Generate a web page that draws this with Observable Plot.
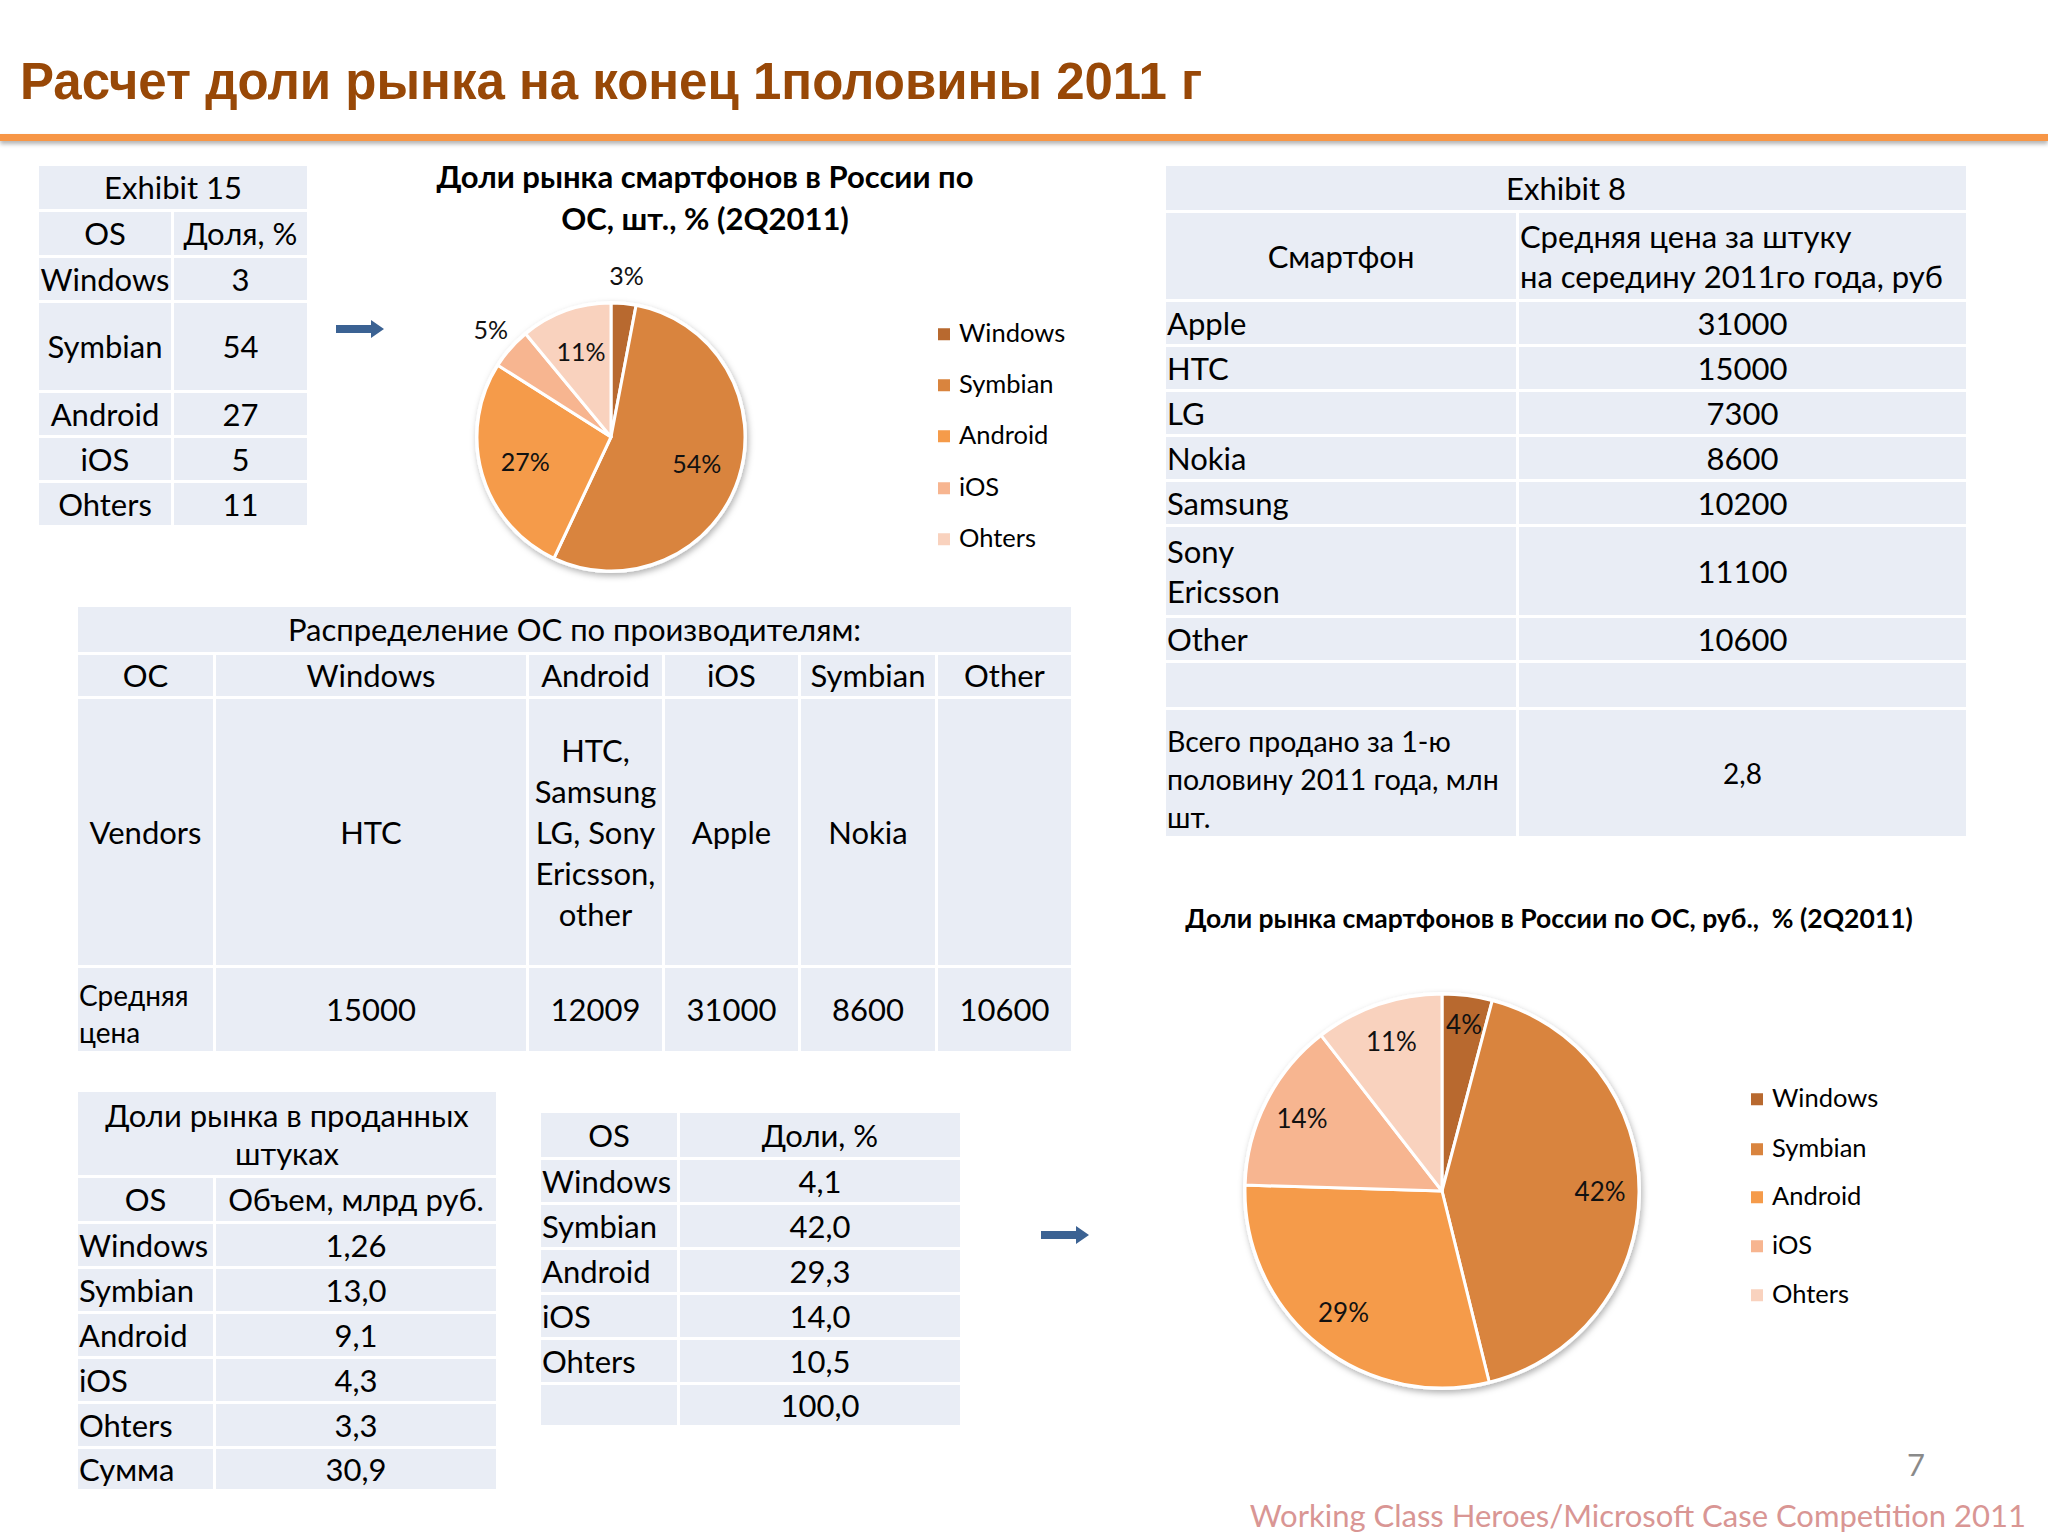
<!DOCTYPE html>
<html><head><meta charset="utf-8">
<script src="https://cdn.jsdelivr.net/npm/d3@7"></script>
<script src="https://cdn.jsdelivr.net/npm/@observablehq/plot@0.6"></script>
<style>
html,body{margin:0;padding:0;background:#fff;}
#slide{position:relative;width:2048px;height:1536px;overflow:hidden;background:#fff;font-family:Lato,"Noto Sans",sans-serif;color:#000;}
.abs{position:absolute;}
table.t{position:absolute;border-collapse:collapse;table-layout:fixed;font-size:31px;}
table.t td{background:#e9edf5;border:3px solid #fff;padding:0 1px;text-align:center;vertical-align:middle;white-space:pre-line;line-height:1.3;overflow:visible;}
table.t td.l{text-align:left;}
.leg{position:absolute;font-size:25px;line-height:1;transform:translateY(-50%);white-space:nowrap;}
.leg span.sw{display:inline-block;width:12px;height:12px;margin-right:9px;vertical-align:middle;position:relative;top:-2px;}
</style></head>
<body><div id="slide"></div>
<script>
// ---------- data ----------
const osNames = ["Windows", "Symbian", "Android", "iOS", "Ohters"];
const osColors = ["#b8692f", "#d9843e", "#f59b4a", "#f7b590", "#f9d2be"];
const unitShare = [3, 54, 27, 5, 11];                 // Exhibit 15, %
const revenueVolume = [1.26, 13.0, 9.1, 4.3, 3.3];    // млрд руб.
const revenueTotal = 30.9;
const revenueShare = [4.1, 42.0, 29.3, 14.0, 10.5];   // %
const revenueShareTotal = 100.0;

const distOS = ["Windows", "Android", "iOS", "Symbian", "Other"];
const distVendors = ["HTC", "HTC,\nSamsung\nLG, Sony\nEricsson,\nother", "Apple", "Nokia", ""];
const distPrice = [15000, 12009, 31000, 8600, 10600];

const phones = ["Apple", "HTC", "LG", "Nokia", "Samsung", "Sony\nEricsson", "Other"];
const phonePrice = [31000, 15000, 7300, 8600, 10200, 11100, 10600];
const totalSold = 2.8; // млн шт.

const titleText = "Расчет доли рынка на конец 1половины 2011 г";
const pie1Title = "Доли рынка смартфонов в России по\nОС, шт., % (2Q2011)";
const pie2Title = "Доли рынка смартфонов в России по ОС, руб.,  % (2Q2011)";
const footerText = "Working Class Heroes/Microsoft Case Competition 2011";
const pageNo = "7";

// ---------- helpers ----------
const slide = document.getElementById("slide");
const color = Plot.scale({color: {type: "ordinal", domain: osNames, range: osColors}});
const dec = v => (Number.isInteger(Math.round(v * 100) / 10) ? v.toFixed(1) : v.toFixed(2)).replace(".", ",");

function el(tag, css, html) {
  const e = document.createElement(tag);
  if (css) e.style.cssText = css;
  if (html != null) e.textContent = html;
  slide.appendChild(e);
  return e;
}

function table(left, top, colWidths, rows) {
  const t = document.createElement("table");
  t.className = "t";
  const cw = colWidths.slice(); cw[0] += 3;
  const W = d3.sum(cw);
  t.style.left = (left - 3) + "px"; t.style.top = (top - 3) + "px"; t.style.width = W + "px";
  const cg = document.createElement("colgroup");
  cw.forEach(w => { const c = document.createElement("col"); c.style.width = w + "px"; cg.appendChild(c); });
  t.appendChild(cg);
  rows.forEach((r, ri) => {
    const tr = document.createElement("tr");
    tr.style.height = (r.h + (ri === 0 ? 3 : 0)) + "px";
    r.cells.forEach(c => {
      const td = document.createElement("td");
      if (typeof c === "object" && c !== null) {
        td.textContent = c.t;
        if (c.span) td.colSpan = c.span;
        if (c.cls) td.className = c.cls;
        if (c.fs) td.style.fontSize = c.fs + "px";
        if (c.lh) td.style.lineHeight = c.lh;
        if (c.pt) td.style.paddingTop = c.pt + "px";
      } else td.textContent = c;
      tr.appendChild(td);
    });
    t.appendChild(tr);
  });
  slide.appendChild(t);
  return t;
}

function arrow(x, y) {
  const s = d3.create("svg").attr("width", 50).attr("height", 20)
    .style("position", "absolute").style("left", x + "px").style("top", (y - 10) + "px");
  s.append("path").attr("d", "M0,6 H35 V1 L48,10 L35,19 V14 H0 Z").attr("fill", "#3b6293");
  slide.appendChild(s.node());
}

function pie(values, size, radius, labelR, fs, left, top) {
  const D = size / 2 / radius;
  const data = osNames.map((os, i) => ({os, value: values[i]}));
  const arcs = d3.pie().sort(null).value(d => d.value)(data);
  const labels = arcs.map(a => {
    const m = (a.startAngle + a.endAngle) / 2, k = labelR(a.data.value);
    return {lx: Math.sin(m) * k, ly: Math.cos(m) * k, label: Math.round(a.data.value) + "%"};
  });
  const slices = (index, scales, vals, dims, context) => {
    const cx = scales.x(0), cy = scales.y(0), r = scales.x(1) - scales.x(0);
    const g = d3.create("svg:g").attr("transform", `translate(${cx},${cy})`);
    const fid = "sh" + Math.round(r);
    g.append("defs").append("filter").attr("id", fid).attr("x", "-20%").attr("y", "-20%").attr("width", "140%").attr("height", "140%")
      .append("feDropShadow").attr("dx", 1.5).attr("dy", 3).attr("stdDeviation", 3).attr("flood-color", "#000").attr("flood-opacity", 0.3);
    g.append("circle").attr("r", r + 2).attr("fill", "#fff").attr("filter", `url(#${fid})`);
    const arc = d3.arc().innerRadius(0).outerRadius(r);
    g.selectAll("path").data(arcs).join("path").attr("d", arc)
      .attr("fill", d => color.apply(d.data.os)).attr("stroke", "#fff").attr("stroke-width", 3).attr("stroke-linejoin", "round");
    return g.node();
  };
  const chart = Plot.plot({
    width: size, height: size, margin: 0,
    x: {domain: [-D, D], axis: null},
    y: {domain: [-D, D], axis: null},
    style: {background: "transparent", fontFamily: "Lato, 'Noto Sans', sans-serif", overflow: "visible"},
    marks: [
      slices,
      Plot.text(labels, {x: "lx", y: "ly", text: "label", fontSize: fs, fill: "#111"})
    ]
  });
  chart.style.position = "absolute";
  chart.style.left = left + "px";
  chart.style.top = top + "px";
  slide.appendChild(chart);
}

function legend(x, ys, fs) {
  osNames.forEach((os, i) => {
    const d = el("div", `left:${x}px;top:${ys[i]}px;font-size:${fs}px`);
    d.className = "leg";
    const sw = document.createElement("span"); sw.className = "sw"; sw.style.background = color.apply(os);
    d.appendChild(sw);
    d.appendChild(document.createTextNode(os));
  });
}

// ---------- header ----------
el("div", "left:20px;top:56px;font-family:'Liberation Sans',Arial,sans-serif;font-weight:bold;font-size:51px;line-height:1;color:#984807;white-space:nowrap;", titleText).className = "abs";
el("div", "left:0;top:134px;width:2048px;height:7px;background:#f79646;box-shadow:0 3px 4px rgba(0,0,0,0.3);").className = "abs";

// ---------- Exhibit 15 ----------
table(39, 166, [132, 136], [
  {h: 43, cells: [{t: "Exhibit 15", span: 2}]},
  {h: 46, cells: ["OS", "Доля, %"]},
  ...osNames.map((os, i) => ({h: i === 1 ? 90 : 45, cells: [os, String(unitShare[i])]}))
]);
arrow(336, 329);

// ---------- Pie 1 ----------
el("div", "left:405px;top:155px;width:600px;text-align:center;font-weight:bold;font-size:31px;line-height:42px;white-space:pre-line;", pie1Title).className = "abs";
pie(unitShare, 340, 134, v => v < 6 ? 1.2 : 0.67, 25, 611 - 170, 437 - 170);
legend(938, [333, 384, 435, 487, 538], 25.5);

// ---------- Exhibit 8 ----------
table(1166, 166, [350, 450], [
  {h: 44, cells: [{t: "Exhibit 8", span: 2}]},
  {h: 89, cells: ["Смартфон", {t: "Средняя цена за штуку\nна середину 2011го года, руб", cls: "l", lh: "40px"}]},
  ...phones.map((p, i) => ({h: i === 5 ? 91 : 45, cells: [{t: p, cls: "l", lh: "40px"}, String(phonePrice[i])]})),
  {h: 47, cells: ["", ""]},
  {h: 129, cells: [{t: "Всего продано за 1-ю\nполовину 2011 года, млн\nшт.", cls: "l", fs: 28.5, lh: "38px", pt: 12}, {t: dec(totalSold), fs: 28}]}
]);

// ---------- Распределение ОС ----------
table(78, 607, [135, 313, 136, 136, 137, 136], [
  {h: 45, cells: [{t: "Распределение ОС по производителям:", span: 6}]},
  {h: 44, cells: ["ОС", ...distOS]},
  {h: 269, cells: ["Vendors", ...distVendors.map(v => ({t: v, lh: "41px"}))]},
  {h: 86, cells: [{t: "Средняя\nцена", cls: "l", fs: 28, lh: "37px", pt: 8}, ...distPrice.map(String)]}
]);

// ---------- Доли рынка в проданных штуках ----------
table(78, 1092, [135, 283], [
  {h: 83, cells: [{t: "Доли рынка в проданных\nштуках", span: 2, lh: "38px"}]},
  {h: 46, cells: ["OS", "Объем, млрд руб."]},
  ...osNames.map((os, i) => ({h: 45, cells: [{t: os, cls: "l"}, dec(revenueVolume[i])]})),
  {h: 43, cells: [{t: "Сумма", cls: "l"}, dec(revenueTotal)]}
]);

// ---------- Доли, % ----------
table(541, 1113, [136, 283], [
  {h: 44, cells: ["OS", "Доли, %"]},
  ...osNames.map((os, i) => ({h: 45, cells: [{t: os, cls: "l"}, dec(revenueShare[i])]})),
  {h: 43, cells: ["", dec(revenueShareTotal)]}
]);
arrow(1041, 1235);

// ---------- Pie 2 ----------
el("div", "left:1149px;top:902px;width:800px;text-align:center;font-weight:bold;font-size:26.5px;line-height:32px;white-space:pre;", pie2Title).className = "abs";
pie(revenueShare, 460, 197, v => v < 5 ? 0.85 : 0.8, 26, 1442 - 230, 1191 - 230);
legend(1751, [1098, 1148, 1196, 1245, 1294], 25.5);

// ---------- footer ----------
el("div", "left:1880px;top:1446px;width:72px;text-align:center;font-size:31px;line-height:36px;color:#8a8a8a;", pageNo).className = "abs";
el("div", "right:22px;top:1496px;font-size:31px;line-height:38px;color:#d99694;white-space:nowrap;", footerText).className = "abs";
</script>
</body></html>
